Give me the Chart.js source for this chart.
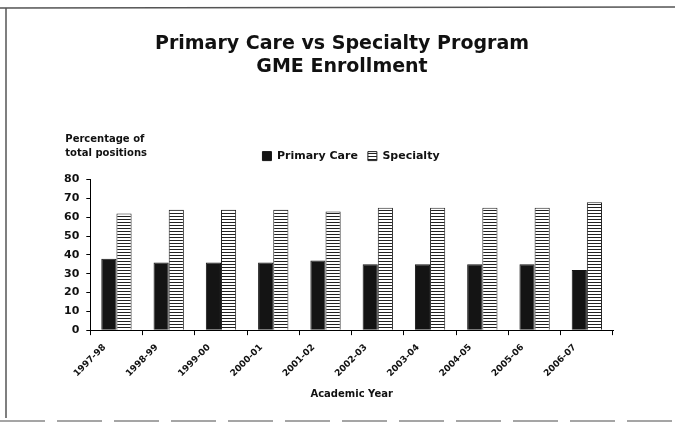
<!DOCTYPE html>
<html>
<head>
<meta charset="utf-8">
<script src="https://cdn.jsdelivr.net/npm/chart.js@4"></script>
<style>
  html, body { margin: 0; padding: 0; background: #fff; }
  #wrap { width: 675px; height: 425px; }
</style>
</head>
<body>
<div id="wrap"><canvas id="myChart" width="675" height="425"></canvas></div>
<script>
// datos
const years = ['1997-98', '1998-99', '1999-00', '2000-01', '2001-02', '2002-03', '2003-04', '2004-05', '2005-06', '2006-07'];
const primaryCare = [38, 36, 36, 36, 37, 35, 35, 35, 35, 32];
const specialty = [62, 64, 64, 64, 63, 65, 65, 65, 65, 68];
const yTicks = [0, 10, 20, 30, 40, 50, 60, 70, 80];

const FONT = '"DejaVu Sans", Verdana, sans-serif';

// rayado horizontal para Specialty
function stripes() {
  const c = document.createElement('canvas');
  c.width = 4; c.height = 3;
  const g = c.getContext('2d');
  g.fillStyle = '#fff';
  g.fillRect(0, 0, 4, 3);
  g.fillStyle = '#222';
  g.fillRect(0, 0, 4, 1);
  return g.createPattern(c, 'repeat');
}
const stripePattern = stripes();

// espacio extra debajo de la leyenda; titulo y leyenda algo a la derecha
const legendGap = {
  id: 'legendGap',
  beforeLayout(chart) {
    const lg = chart.legend;
    if (lg && !lg._gap) {
      const fit = lg.fit;
      lg.fit = function () { fit.call(this); this.height += 8; };
      lg._gap = true;
    }
  },
  afterLayout(chart) {
    const lg = chart.legend;
    if (lg) { lg.left += 16; lg.right += 16; }
    const tb = chart.titleBlock;
    if (tb) { tb.left += 7; tb.right += 7; }
  }
};

// marco de la imagen y titulo del eje y
const extras = {
  id: 'extras',
  beforeDraw(chart) {
    const c = chart.ctx;
    c.save();
    c.fillStyle = '#fff';
    c.fillRect(0, 0, chart.width, chart.height);
    c.restore();
  },
  afterDraw(chart) {
    const c = chart.ctx;
    const a = chart.chartArea;
    c.save();
    c.strokeStyle = '#555';
    c.lineWidth = 1.5;
    c.beginPath();
    c.moveTo(0, 8); c.lineTo(675, 7);
    c.moveTo(6, 8); c.lineTo(6, 418);
    c.stroke();
    c.setLineDash([45, 12]);
    c.strokeStyle = '#888';
    c.beginPath();
    c.moveTo(0, 421); c.lineTo(675, 421);
    c.stroke();
    c.setLineDash([]);
    c.fillStyle = '#111';
    c.font = 'bold 10px ' + FONT;
    c.textAlign = 'left';
    c.textBaseline = 'middle';
    c.fillText('Percentage of', a.left - 25, a.top - 40);
    c.fillText('total positions', a.left - 25, a.top - 26);
    c.restore();
  }
};

const ctx = document.getElementById('myChart').getContext('2d');

const config = {
  type: 'bar',
  data: {
    labels: years,
    datasets: [{
      label: 'Primary Care',
      data: primaryCare,
      backgroundColor: '#141414',
      borderColor: '#141414',
      borderWidth: 1
    }, {
      label: 'Specialty',
      data: specialty,
      backgroundColor: stripePattern,
      borderColor: '#222',
      borderWidth: 1
    }]
  },
  options: {
    responsive: false,
    animation: false,
    layout: { padding: { left: 57, right: 62, top: 10, bottom: 21 } },
    categoryPercentage: 0.58,
    barPercentage: 1.0,
    plugins: {
      title: {
        display: true,
        text: ['Primary Care vs Specialty Program', 'GME Enrollment'],
        color: '#111',
        font: { family: FONT, size: 19, weight: 'bold' },
        padding: { top: 23, bottom: 62 },
        lineHeight: 1.05
      },
      legend: {
        display: true,
        position: 'top',
        labels: {
          color: '#111',
          font: { family: FONT, size: 11, weight: 'bold' },
          boxWidth: 9,
          boxHeight: 9,
          padding: 10
        }
      },
      tooltip: { enabled: false }
    },
    scales: {
      x: {
        grid: { display: true, drawOnChartArea: false, drawTicks: true, tickLength: 5, color: '#000', offset: true },
        border: { display: true, color: '#000', width: 1 },
        ticks: {
          color: '#111',
          maxRotation: 45,
          minRotation: 45,
          padding: 7,
          labelOffset: -12,
          font: { family: FONT, size: 9, weight: 'bold' }
        },
        title: {
          display: true,
          text: 'Academic Year',
          color: '#111',
          font: { family: FONT, size: 10, weight: 'bold' },
          padding: { top: 2 }
        }
      },
      y: {
        min: 0,
        max: 80,
        afterBuildTicks: axis => { axis.ticks = yTicks.map(v => ({ value: v })); },
        grid: { display: true, drawOnChartArea: false, drawTicks: true, tickLength: 4, color: '#000' },
        border: { display: true, color: '#000', width: 1 },
        ticks: {
          color: '#111',
          padding: 7,
          font: { family: FONT, size: 11, weight: 'bold' }
        }
      }
    }
  },
  plugins: [legendGap, extras]
};

const myChart = new Chart(ctx, config);
</script>
</body>
</html>
